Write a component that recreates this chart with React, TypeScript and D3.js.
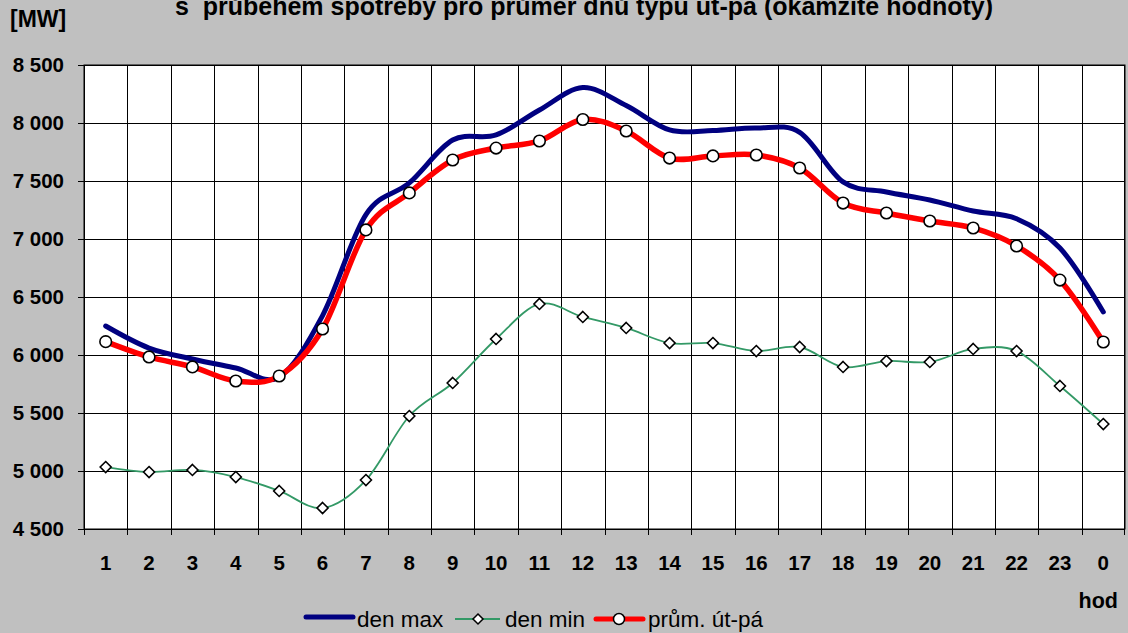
import React from 'react';
import * as d3 from 'd3';

// hours of the day (x axis categories)
const hours = ['1', '2', '3', '4', '5', '6', '7', '8', '9', '10', '11', '12', '13', '14', '15', '16', '17', '18', '19', '20', '21', '22', '23', '0'];

// series values in MW
const denMax = [6250, 6060, 5966, 5888, 5810, 6340, 7210, 7483, 7853, 7897, 8112, 8305, 8150, 7940, 7935, 7957, 7920, 7492, 7405, 7336, 7241, 7175, 6922, 6371];
const denMin = [5034, 4991, 5009, 4948, 4828, 4681, 4922, 5474, 5759, 6138, 6440, 6328, 6233, 6103, 6103, 6034, 6069, 5897, 5948, 5940, 6052, 6034, 5733, 5405];
const prumUtPa = [6115, 5983, 5897, 5776, 5819, 6224, 7078, 7397, 7681, 7784, 7845, 8030, 7931, 7698, 7716, 7724, 7612, 7310, 7224, 7155, 7095, 6940, 6646, 6112];

const yTicks = [4500, 5000, 5500, 6000, 6500, 7000, 7500, 8000, 8500];

const W = 1128;
const H = 633;
const plot = { left: 84, right: 1125, top: 65, bottom: 529 };
const font = 'Arial, "Liberation Sans", Helvetica, sans-serif';

const fmt = (v: number) => {
  const s = String(v);
  return s.length > 3 ? s.slice(0, s.length - 3) + ' ' + s.slice(-3) : s;
};

const diamond = (cx: number, cy: number, r: number) =>
  `M${cx},${cy - r}L${cx + r},${cy}L${cx},${cy + r}L${cx - r},${cy}Z`;

const App: React.FC = () => {
  const x = d3.scaleBand<string>().domain(hours).range([plot.left, plot.right]).padding(0);
  const y = d3.scaleLinear().domain([4500, 8500]).range([plot.bottom, plot.top]);
  const bw = x.bandwidth();
  const cx = (i: number) => x(hours[i])! + bw / 2;

  // smoothed lines like the spreadsheet original
  const line = d3
    .line<number>()
    .x((_, i) => cx(i))
    .y(d => y(d))
    .curve(d3.curveCardinal.tension(0));

  const boundaries = d3.range(1, hours.length).map(k => plot.left + k * bw);

  return (
    <svg width={W} height={H} style={{ position: 'absolute', left: 0, top: 0, display: 'block' }} fontFamily={font}>
      <rect x={0} y={0} width={W} height={H} fill="#c0c0c0" />

      {/* title, its top is cut by the image edge in the original */}
      <text x={584} y={15} textAnchor="middle" fontSize={25} fontWeight="bold" fill="#000">
        {'s\u00a0 průběhem spotřeby pro průměr dnů typu út-pá (okamžité hodnoty)'}
      </text>
      <text x={10} y={27} fontSize={23} fontWeight="bold" fill="#000">[MW]</text>

      {/* plot area */}
      <rect x={plot.left} y={plot.top} width={plot.right - plot.left} height={plot.bottom - plot.top} fill="#fff" stroke="#000" strokeWidth={1} />

      {/* horizontal grid + y ticks */}
      {yTicks.map(t => (
        <g key={t}>
          <line x1={plot.left - 6} x2={plot.right} y1={Math.round(y(t)) + 0.5} y2={Math.round(y(t)) + 0.5} stroke="#000" strokeWidth={1} />
          <text x={64} y={y(t) + 7} textAnchor="end" fontSize={20.5} fontWeight="bold" fill="#000">{fmt(t)}</text>
        </g>
      ))}

      {/* vertical grid + x ticks */}
      {boundaries.map(b => (
        <line key={b} x1={Math.round(b) + 0.5} x2={Math.round(b) + 0.5} y1={plot.top} y2={plot.bottom + 6} stroke="#000" strokeWidth={1} />
      ))}
      <line x1={plot.left + 0.5} x2={plot.left + 0.5} y1={plot.top} y2={plot.bottom + 6} stroke="#000" />
      <line x1={plot.right - 0.5} x2={plot.right - 0.5} y1={plot.top} y2={plot.bottom + 6} stroke="#000" />

      {hours.map((h, i) => (
        <text key={h} x={cx(i)} y={570} textAnchor="middle" fontSize={20.5} fontWeight="bold" fill="#000">{h}</text>
      ))}
      <text x={1118} y={608} textAnchor="end" fontSize={21.5} fontWeight="bold" fill="#000">hod</text>

      {/* series */}
      <path d={line(denMin) || ''} fill="none" stroke="#339966" strokeWidth={1.8} />
      <path d={line(denMax) || ''} fill="none" stroke="#000080" strokeWidth={5} strokeLinecap="round" />
      <path d={line(prumUtPa) || ''} fill="none" stroke="#ff0000" strokeWidth={5.5} strokeLinecap="round" />

      {denMin.map((v, i) => (
        <path key={'d' + i} d={diamond(cx(i), y(v), 5.5)} fill="#fff" stroke="#000" strokeWidth={1.6} />
      ))}
      {prumUtPa.map((v, i) => (
        <circle key={'c' + i} cx={cx(i)} cy={y(v)} r={5.8} fill="#fff" stroke="#000" strokeWidth={1.6} />
      ))}

      {/* legend */}
      <g fontSize={22.5} fill="#000">
        <line x1={306} x2={353} y1={617} y2={617} stroke="#000080" strokeWidth={5} strokeLinecap="round" />
        <text x={357} y={627}>den max</text>
        <line x1={455} x2={500} y1={619} y2={619} stroke="#339966" strokeWidth={1.8} />
        <path d={diamond(478, 619, 5)} fill="#fff" stroke="#000" strokeWidth={1.5} />
        <text x={505} y={627}>den min</text>
        <line x1={596} x2={643} y1={619} y2={619} stroke="#ff0000" strokeWidth={5} strokeLinecap="round" />
        <circle cx={619} cy={619} r={5.5} fill="#fff" stroke="#000" strokeWidth={1.5} />
        <text x={648} y={627}>prům. út-pá</text>
      </g>
    </svg>
  );
};

export default App;
